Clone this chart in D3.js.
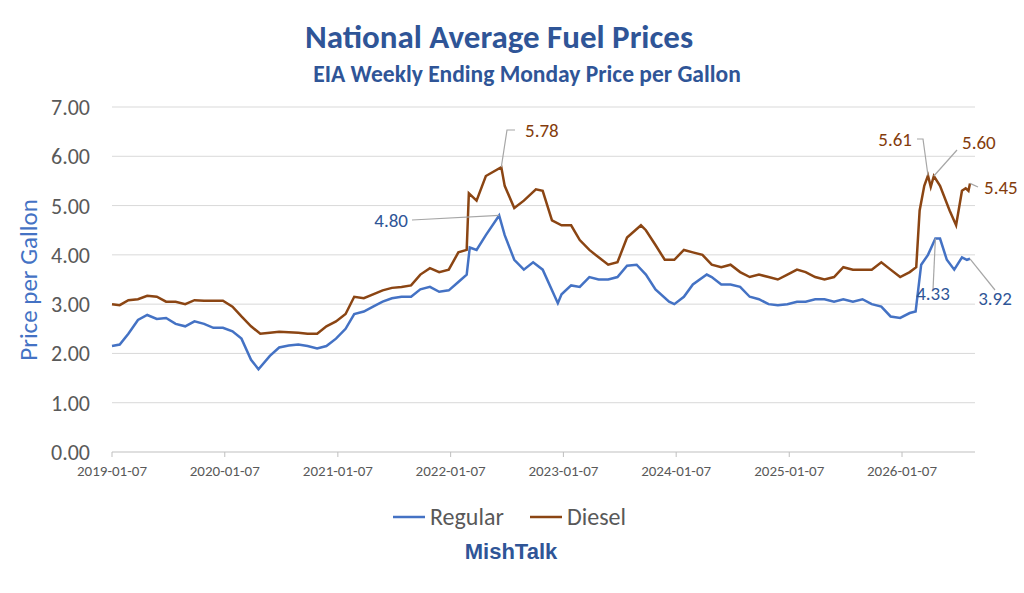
<!DOCTYPE html>
<html><head><meta charset="utf-8">
<script src="https://cdn.jsdelivr.net/npm/d3@7"></script>
<style>body{margin:0;background:#fff;font-family:Calibri,"Liberation Sans",Carlito,sans-serif}</style>
</head><body><svg id="c" width="1024" height="593"></svg>
<script>
const regDates=["2019-01-07","2019-02-01","2019-03-01","2019-04-01","2019-05-01","2019-06-01","2019-07-01","2019-08-01","2019-09-01","2019-10-01","2019-11-01","2019-12-01","2020-01-01","2020-02-01","2020-03-01","2020-04-01","2020-04-25","2020-06-01","2020-07-01","2020-08-01","2020-09-01","2020-10-01","2020-11-01","2020-12-01","2021-01-01","2021-02-01","2021-03-01","2021-04-01","2021-05-01","2021-06-01","2021-07-01","2021-08-01","2021-09-01","2021-10-01","2021-11-01","2021-12-01","2022-01-01","2022-02-01","2022-02-28","2022-03-10","2022-04-01","2022-05-01","2022-06-13","2022-07-01","2022-08-01","2022-09-01","2022-10-01","2022-11-01","2022-12-20","2023-01-01","2023-02-01","2023-03-01","2023-04-01","2023-05-01","2023-06-01","2023-07-01","2023-08-01","2023-09-01","2023-10-01","2023-11-01","2023-12-15","2024-01-01","2024-02-01","2024-03-01","2024-04-15","2024-05-01","2024-06-01","2024-07-01","2024-08-01","2024-09-01","2024-10-01","2024-11-01","2024-12-01","2025-01-01","2025-02-01","2025-03-01","2025-04-01","2025-05-01","2025-06-01","2025-07-01","2025-08-01","2025-09-01","2025-10-01","2025-11-01","2025-12-01","2026-01-01","2026-02-01","2026-02-20","2026-03-10","2026-04-01","2026-04-25","2026-05-10","2026-06-01","2026-06-25","2026-07-20","2026-08-05","2026-08-15"];
const regular=[2.15,2.18,2.40,2.68,2.78,2.70,2.72,2.60,2.55,2.65,2.60,2.52,2.52,2.45,2.30,1.87,1.68,1.95,2.12,2.16,2.18,2.15,2.10,2.15,2.30,2.50,2.80,2.85,2.95,3.05,3.12,3.15,3.15,3.30,3.35,3.25,3.28,3.45,3.60,4.15,4.10,4.40,4.80,4.40,3.90,3.70,3.85,3.70,3.02,3.20,3.38,3.35,3.55,3.50,3.50,3.55,3.78,3.80,3.60,3.30,3.05,3.00,3.15,3.40,3.60,3.55,3.40,3.40,3.35,3.15,3.10,3.00,2.98,3.00,3.05,3.05,3.10,3.10,3.05,3.10,3.05,3.10,3.00,2.95,2.75,2.72,2.82,2.85,3.80,4.00,4.33,4.33,3.90,3.70,3.95,3.90,3.92];
const dslDates=["2019-01-07","2019-02-01","2019-03-01","2019-04-01","2019-05-01","2019-06-01","2019-07-01","2019-08-01","2019-09-01","2019-10-01","2019-11-01","2019-12-01","2020-01-01","2020-02-01","2020-03-01","2020-04-01","2020-05-01","2020-06-01","2020-07-01","2020-08-01","2020-09-01","2020-10-01","2020-11-01","2020-12-01","2021-01-01","2021-02-01","2021-03-01","2021-04-01","2021-05-01","2021-06-01","2021-07-01","2021-08-01","2021-09-01","2021-10-01","2021-11-01","2021-12-01","2022-01-01","2022-02-01","2022-02-28","2022-03-07","2022-04-01","2022-05-01","2022-06-20","2022-07-01","2022-08-01","2022-09-01","2022-10-10","2022-11-01","2022-12-01","2023-01-01","2023-02-01","2023-03-01","2023-04-01","2023-05-01","2023-06-01","2023-07-01","2023-08-01","2023-09-15","2023-10-01","2023-11-01","2023-12-01","2024-01-01","2024-02-01","2024-03-01","2024-04-01","2024-05-01","2024-06-01","2024-07-01","2024-08-01","2024-09-01","2024-10-01","2024-11-01","2024-12-01","2025-01-01","2025-02-01","2025-03-01","2025-04-01","2025-05-01","2025-06-01","2025-07-01","2025-08-01","2025-09-01","2025-10-01","2025-11-01","2025-12-01","2026-01-01","2026-02-01","2026-02-22","2026-03-05","2026-03-20","2026-04-01","2026-04-10","2026-04-20","2026-05-10","2026-06-10","2026-07-01","2026-07-20","2026-08-01","2026-08-10","2026-08-15"];
const diesel=[3.00,2.98,3.08,3.10,3.17,3.15,3.05,3.05,3.00,3.08,3.07,3.07,3.07,2.95,2.75,2.55,2.40,2.42,2.44,2.43,2.42,2.40,2.40,2.55,2.65,2.80,3.15,3.12,3.20,3.28,3.33,3.35,3.38,3.60,3.73,3.65,3.70,4.05,4.10,5.25,5.10,5.60,5.78,5.40,4.95,5.10,5.33,5.30,4.70,4.60,4.60,4.30,4.10,3.95,3.80,3.85,4.35,4.60,4.50,4.20,3.90,3.90,4.10,4.05,4.00,3.80,3.75,3.80,3.65,3.55,3.60,3.55,3.50,3.60,3.70,3.65,3.55,3.50,3.55,3.75,3.70,3.70,3.70,3.85,3.70,3.55,3.65,3.75,4.90,5.40,5.61,5.38,5.60,5.40,4.90,4.60,5.30,5.35,5.30,5.45];
const yTicks=[0,1,2,3,4,5,6,7];
const xTicks=["2019-01-07","2020-01-07","2021-01-07","2022-01-07","2023-01-07","2024-01-07","2025-01-07","2026-01-07"];
const pt=d3.timeParse("%Y-%m-%d");
const svg=d3.select("#c");
const x=d3.scaleTime().domain([pt("2019-01-07"),pt("2026-08-15")]).range([112,970]);
const y=d3.scaleLinear().domain([0,7]).range([452,107]);
const F="Calibri,Carlito,'Liberation Sans',sans-serif";
yTicks.forEach(t=>{
 svg.append("line").attr("x1",112).attr("x2",975).attr("y1",y(t)).attr("y2",y(t)).attr("stroke",t===0?"#bfbfbf":"#d9d9d9").attr("stroke-width",1);
 svg.append("text").attr("x",90).attr("y",y(t)+8).attr("text-anchor","end").attr("font-size",22).attr("fill","#595959").attr("font-family",F).text(t.toFixed(2));
});
xTicks.forEach(t=>{
 svg.append("line").attr("x1",x(pt(t))).attr("x2",x(pt(t))).attr("y1",452).attr("y2",457).attr("stroke","#bfbfbf");
 svg.append("text").attr("x",x(pt(t))).attr("y",476).attr("text-anchor","middle").attr("font-size",15).attr("fill","#595959").attr("font-family",F).text(t);
});
const line=d3.line().x(d=>x(d[0])).y(d=>y(d[1]));
svg.append("path").datum(dslDates.map((d,i)=>[pt(d),diesel[i]])).attr("d",line).attr("fill","none").attr("stroke","#8b4513").attr("stroke-width",2.5);
svg.append("path").datum(regDates.map((d,i)=>[pt(d),regular[i]])).attr("d",line).attr("fill","none").attr("stroke","#4472c4").attr("stroke-width",2.5);
function lab(date,val,pts,tx,ty,anchor,col,txt){
 const px=x(pt(date)),py=y(val);
 svg.append("polyline").attr("points",[[px,py]].concat(pts).map(p=>p.join(",")).join(" ")).attr("fill","none").attr("stroke","#a6a6a6").attr("stroke-width",1.2);
 svg.append("text").attr("x",tx).attr("y",ty).attr("text-anchor",anchor).attr("font-size",19).attr("fill",col).attr("font-family",F).text(txt);
}
lab("2022-06-13",4.80,[[412,220]],408,227,"end","#2f5597","4.80");
lab("2022-06-20",5.78,[[507,130],[515,130]],525,137,"start","#843c0c","5.78");
lab("2026-04-01",5.61,[[923,139],[917,139]],912,146,"end","#843c0c","5.61");
lab("2026-04-20",5.60,[[957,150]],962,149,"start","#843c0c","5.60");
lab("2026-08-15",5.45,[[978,187]],984,194,"start","#843c0c","5.45");
lab("2026-08-15",3.92,[[995,290]],995,305,"middle","#2f5597","3.92");
lab("2026-04-25",4.33,[[933,290]],933,300,"middle","#2f5597","4.33");
svg.append("text").attr("x",499).attr("y",48).attr("text-anchor","middle").attr("font-size",33).attr("font-weight","bold").attr("fill","#2f5597").attr("font-family",F).text("National Average Fuel Prices");
svg.append("text").attr("x",527).attr("y",82).attr("text-anchor","middle").attr("font-size",23.5).attr("font-weight","bold").attr("fill","#2f5597").attr("font-family",F).text("EIA Weekly Ending Monday Price per Gallon");
svg.append("text").attr("transform","translate(37,280) rotate(-90)").attr("text-anchor","middle").attr("font-size",25).attr("fill","#4472c4").attr("font-family",F).text("Price per Gallon");
svg.append("line").attr("x1",393).attr("x2",425).attr("y1",517).attr("y2",517).attr("stroke","#4472c4").attr("stroke-width",2.5);
svg.append("text").attr("x",430).attr("y",525).attr("font-size",24).attr("fill","#595959").attr("font-family",F).text("Regular");
svg.append("line").attr("x1",530).attr("x2",562).attr("y1",517).attr("y2",517).attr("stroke","#8b4513").attr("stroke-width",2.5);
svg.append("text").attr("x",567).attr("y",525).attr("font-size",24).attr("fill","#595959").attr("font-family",F).text("Diesel");
svg.append("text").attr("x",511).attr("y",559).attr("text-anchor","middle").attr("font-size",22).attr("font-weight","bold").attr("fill","#2f5597").attr("font-family","'Liberation Sans',Arial,sans-serif").text("MishTalk");
</script></body></html>
